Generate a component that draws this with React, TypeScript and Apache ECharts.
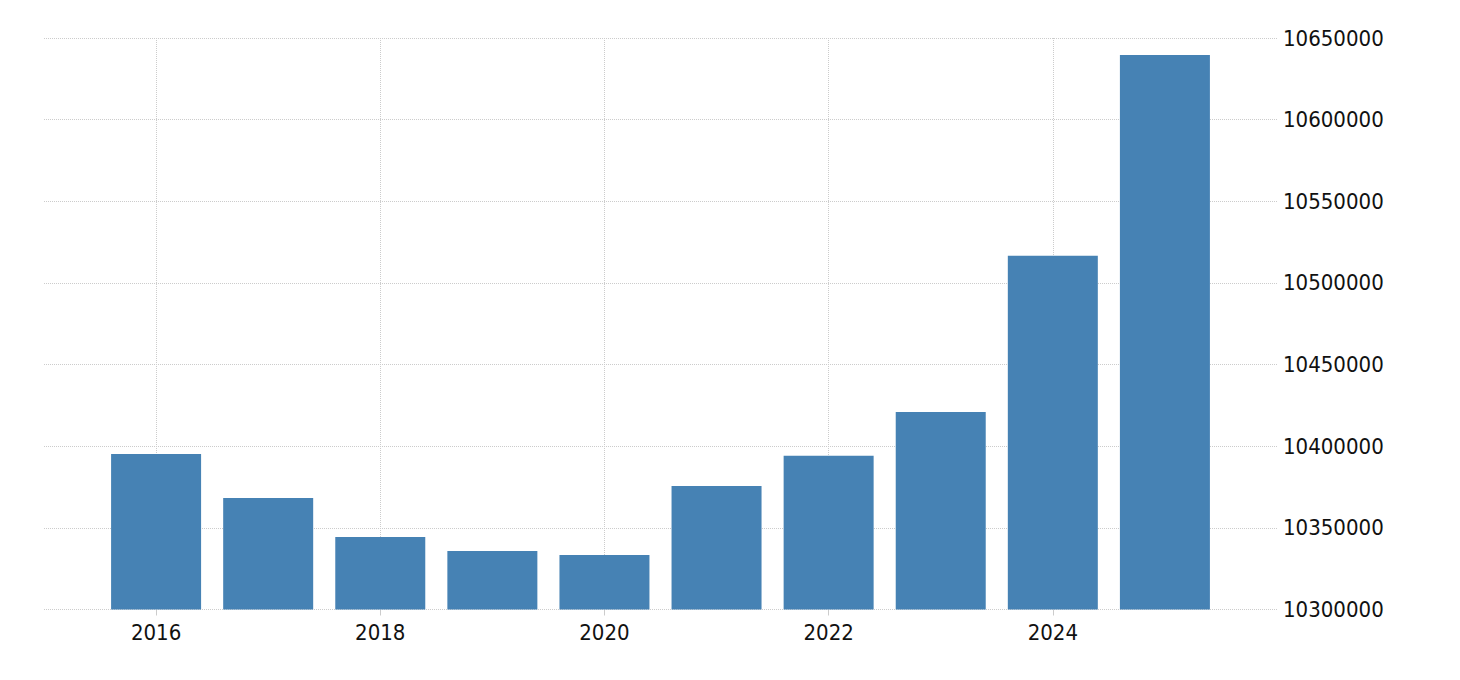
import React, { useEffect, useRef } from "react";
import * as echarts from "echarts";

const years = ["2016", "2017", "2018", "2019", "2020", "2021", "2022", "2023", "2024", "2025"];
const values = [10395300, 10368300, 10344400, 10335800, 10333400, 10375700, 10394100, 10421000, 10516700, 10639600];
const axisStart = "2015";
const axisEnd = "2026";
const labelYears = ["2016", "2018", "2020", "2022", "2024"];

const FONT = "'DejaVu Sans Condensed', 'Liberation Sans', sans-serif";

export default function App() {
  const ref = useRef<HTMLDivElement>(null);
  useEffect(() => {
    if (!ref.current) return;
    const chart = echarts.init(ref.current, null, { renderer: "svg" });
    const cats = [axisStart, ...years, axisEnd];
    const data = cats.map((c) => {
      const i = years.indexOf(c);
      return i >= 0 ? values[i] : null;
    });
    const show = (_i: number, v: string) => labelYears.includes(v);
    chart.setOption({
      animation: false,
      backgroundColor: "#ffffff",
      grid: { left: 44, right: 183, top: 38, bottom: 70.5, containLabel: false },
      xAxis: {
        type: "category",
        data: cats,
        boundaryGap: false,
        axisLine: { show: false },
        axisTick: { show: true, interval: show, length: 6, lineStyle: { color: "#cccccc" } },
        axisLabel: {
          interval: show,
          margin: 12,
          color: "#111111",
          fontFamily: FONT,
          fontSize: 22,
        },
        splitLine: { show: true, interval: show, lineStyle: { type: "dotted", color: "#cccccc", width: 1 } },
      },
      yAxis: {
        type: "value",
        position: "right",
        min: 10300000,
        max: 10650000,
        interval: 50000,
        axisLine: { show: false },
        axisTick: { show: false },
        axisLabel: {
          margin: 6,
          color: "#111111",
          fontFamily: FONT,
          fontSize: 22,
          formatter: (v: number) => String(v),
        },
        splitLine: { show: true, lineStyle: { type: "dotted", color: "#cccccc", width: 1 } },
      },
      series: [
        {
          type: "bar",
          data,
          barWidth: 90,
          itemStyle: { color: "#4682b4" },
        },
      ],
    });
    return () => chart.dispose();
  }, []);
  return (
    <div
      ref={ref}
      style={{ position: "absolute", left: 0, top: 0, width: 1460, height: 680 }}
    />
  );
}
